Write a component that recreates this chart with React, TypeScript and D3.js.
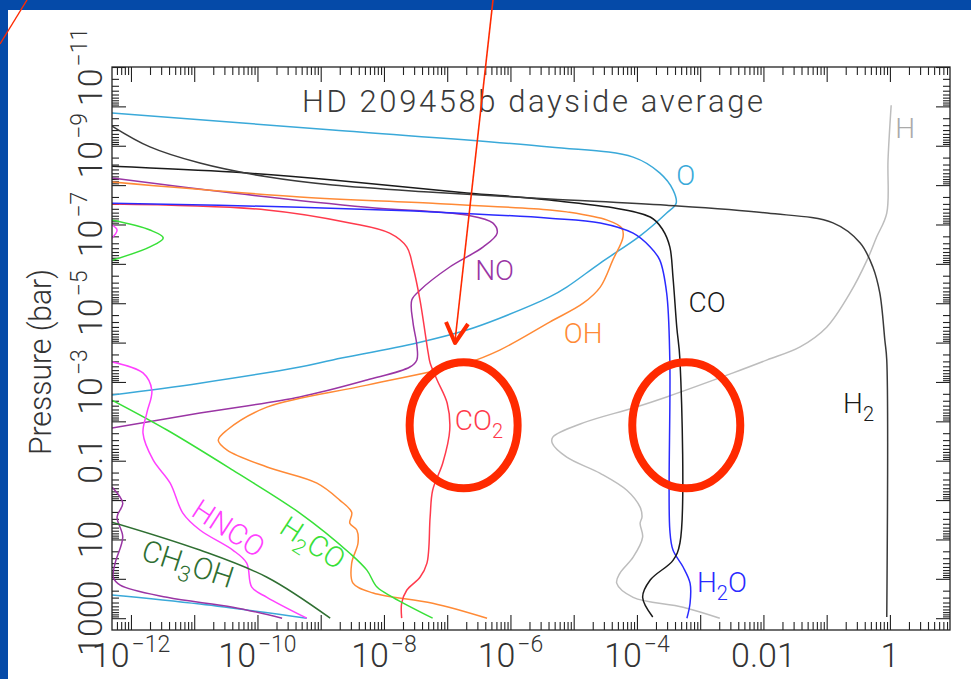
import React, { useEffect, useRef } from 'react';
import * as d3 from 'd3';

// Values: [log10 mixing ratio, log10 pressure (bar)]
const O_top = [[-12.30,-9.83],[-8.81,-9.40],[-5.38,-8.97],[-4.06,-8.71],[-3.64,-8.31],[-3.43,-7.88],[-3.38,-7.54],[-3.53,-7.29],[-3.95,-6.71],[-4.58,-6.02],[-5.11,-5.41],[-5.38,-5.16],[-6.17,-4.62],[-6.69,-4.32],[-7.48,-3.99],[-8.81,-3.56],[-9.33,-3.38],[-10.91,-2.97],[-12.30,-2.67]];
const O_deep = [[-12.30,2.41],[-10.91,2.64],[-9.22,3.00]];
const NO_top = [[-12.30,-8.18],[-10.39,-7.80],[-8.27,-7.44],[-6.69,-7.24],[-6.28,-7.04],[-6.21,-6.78],[-6.43,-6.43],[-6.96,-5.92],[-7.43,-5.33],[-7.56,-5.08],[-7.54,-4.50],[-7.48,-3.94],[-7.48,-3.56],[-7.59,-3.38],[-8.27,-3.05],[-9.33,-2.62],[-10.91,-2.21],[-12.30,-1.83]];
const NO_deep = [[-12.30,-0.33],[-12.13,0.08],[-12.22,0.43],[-12.13,0.94],[-12.25,1.60],[-12.28,1.96],[-12.17,2.16],[-11.43,2.47],[-10.39,2.72],[-9.61,3.00]];
const CO = [[-12.30,-8.48],[-10.39,-8.33],[-8.81,-8.13],[-6.69,-7.80],[-5.38,-7.62],[-3.79,-7.19],[-3.59,-6.86],[-3.48,-6.43],[-3.43,-5.66],[-3.37,-4.39],[-3.32,-3.56],[-3.32,1.09],[-3.43,1.53],[-3.79,2.03],[-3.91,2.47],[-3.75,2.97]];
const H2 = [[-12.30,-9.50],[-11.70,-8.97],[-10.91,-8.56],[-9.85,-8.21],[-8.81,-8.00],[-7.23,-7.82],[-5.38,-7.65],[-3.53,-7.49],[-1.94,-7.29],[-0.90,-7.04],[-0.47,-6.53],[-0.27,-5.92],[-0.16,-5.26],[-0.08,-4.06],[-0.05,-3.56],[-0.05,2.97]];
const H = [[0.02,-10.03],[-0.03,-8.64],[-0.05,-7.29],[-0.21,-6.68],[-0.36,-6.10],[-0.63,-5.26],[-1.00,-4.39],[-1.42,-3.89],[-1.94,-3.56],[-2.48,-3.23],[-3.53,-2.62],[-4.06,-2.34],[-4.85,-1.96],[-5.33,-1.60],[-5.34,-1.45],[-5.11,-1.09],[-4.58,-0.68],[-4.16,-0.25],[-3.95,0.18],[-3.92,0.43],[-3.95,0.59],[-3.91,0.94],[-4.06,1.45],[-4.27,1.86],[-4.32,2.11],[-4.06,2.47],[-3.27,2.72],[-2.69,3.00]];
const H2O = [[-12.30,-7.54],[-9.33,-7.44],[-7.23,-7.32],[-5.38,-7.16],[-4.58,-7.04],[-4.06,-6.78],[-3.79,-6.43],[-3.64,-6.10],[-3.53,-5.26],[-3.48,-3.56],[-3.48,0.76],[-3.43,1.27],[-3.27,1.70],[-3.16,2.11],[-3.16,2.62],[-3.21,3.00]];
const OH = [[-12.30,-8.08],[-9.33,-7.70],[-7.23,-7.54],[-5.38,-7.37],[-5.11,-7.32],[-4.47,-7.11],[-4.24,-6.91],[-4.22,-6.68],[-4.38,-6.10],[-4.58,-5.41],[-4.85,-5.00],[-5.38,-4.52],[-6.17,-3.81],[-6.69,-3.48],[-8.27,-2.92],[-9.85,-2.36],[-10.48,-1.78],[-10.62,-1.52],[-10.48,-1.27],[-9.85,-0.84],[-9.06,-0.43],[-8.70,0.00],[-8.51,0.31],[-8.54,0.59],[-8.43,0.76],[-8.41,1.09],[-8.51,1.60],[-8.49,2.11],[-8.17,2.36],[-7.23,2.62],[-6.37,3.00]];
const CO2 = [[-12.30,-7.52],[-9.85,-7.37],[-8.54,-7.04],[-7.91,-6.78],[-7.64,-6.43],[-7.54,-5.92],[-7.43,-5.08],[-7.30,-3.73],[-7.27,-3.48],[-7.16,-3.05],[-7.00,-2.46],[-6.96,-1.78],[-7.07,-0.94],[-7.23,-0.25],[-7.27,0.43],[-7.32,1.60],[-7.43,1.96],[-7.64,2.29],[-7.72,2.62],[-7.72,3.00]];
const H2CO_top = [[-12.32,-7.12],[-11.70,-6.86],[-11.49,-6.66],[-11.70,-6.43],[-12.32,-6.08]];
const H2CO = [[-12.30,-2.54],[-11.43,-1.78],[-10.39,-0.76],[-9.33,0.33],[-8.54,1.35],[-8.27,1.78],[-8.11,2.21],[-7.86,2.47],[-7.23,3.00]];
const HNCO_top = [[-12.31,-7.00],[-12.22,-6.86],[-12.31,-6.64]];
const HNCO = [[-12.30,-3.51],[-11.81,-3.23],[-11.67,-2.79],[-11.75,-2.21],[-11.81,-1.70],[-11.65,-1.02],[-11.38,-0.43],[-11.18,0.33],[-10.91,0.76],[-10.39,1.27],[-10.17,1.60],[-10.09,2.21],[-9.85,2.47],[-9.22,3.00]];
const CH3OH = [[-12.30,0.56],[-10.91,1.27],[-9.85,1.96],[-8.85,3.00]];

const xTickVals = [1e-12, 1e-10, 1e-8, 1e-6, 1e-4, 0.01, 1];
const xTickText = ['10^12', '10^10', '10^8', '10^6', '10^4', '0.01', '1'];
const yTickVals = [1000, 10, 0.1, 1e-3, 1e-5, 1e-7, 1e-9, 1e-11];
const yTickText = ['1000', '10', '0.1', '10^3', '10^5', '10^7', '10^9', '10^11'];

const FONT = 'Roboto, "Liberation Sans", Arial, sans-serif';

const App = () => {
  const ref = useRef<SVGSVGElement>(null);

  useEffect(() => {
    const svg = d3.select(ref.current);
    svg.selectAll('*').remove();

    const width = 971;
    const height = 679;
    const x0 = 112, x1 = 950, y0 = 67, y1 = 630;

    const x = d3.scaleLog().domain([10 ** -12.3, 10 ** 0.95]).range([x0, x1]);
    const y = d3.scaleLog().domain([1e-11, 10 ** 3.3]).range([y0, y1]);

    // slide background
    svg.append('rect').attr('width', width).attr('height', height).attr('fill', '#054aa8');
    svg.append('rect').attr('x', 8).attr('y', 10).attr('width', width - 8).attr('height', height - 10).attr('fill', '#fff');

    // ticks
    const decades = (lo: number, hi: number) => d3.range(lo, hi + 1).map(e => 10 ** e);
    const minors = (lo: number, hi: number, dom: number[]) => {
      const out: number[] = [];
      for (let e = lo; e <= hi; e++) for (let k = 2; k <= 9; k++) {
        const v = k * 10 ** e;
        if (v > dom[0] && v < dom[1]) out.push(v);
      }
      return out;
    };
    const xMaj = decades(-12, 0);
    const xMin = minors(-13, 0, x.domain());
    const yMaj = decades(-11, 3);
    const yMin = minors(-12, 3, y.domain());

    const drawAxis = (axis: any, tx: number, ty: number) => {
      const g = svg.append('g').attr('transform', `translate(${tx},${ty})`).call(axis);
      g.select('.domain').remove();
      g.selectAll('line').attr('stroke', '#222').attr('stroke-width', 1.1);
      g.selectAll('text').remove();
    };
    const noFmt = () => '';
    drawAxis(d3.axisBottom(x).tickValues(xMaj).tickSize(-15).tickSizeOuter(0).tickFormat(noFmt), 0, y1);
    drawAxis(d3.axisBottom(x).tickValues(xMin).tickSize(-8).tickSizeOuter(0).tickFormat(noFmt), 0, y1);
    drawAxis(d3.axisTop(x).tickValues(xMaj).tickSize(-15).tickSizeOuter(0).tickFormat(noFmt), 0, y0);
    drawAxis(d3.axisTop(x).tickValues(xMin).tickSize(-8).tickSizeOuter(0).tickFormat(noFmt), 0, y0);
    drawAxis(d3.axisLeft(y).tickValues(yMaj).tickSize(-14).tickSizeOuter(0).tickFormat(noFmt), x0, 0);
    drawAxis(d3.axisLeft(y).tickValues(yMin).tickSize(-7).tickSizeOuter(0).tickFormat(noFmt), x0, 0);
    drawAxis(d3.axisRight(y).tickValues(yMaj).tickSize(-14).tickSizeOuter(0).tickFormat(noFmt), x1, 0);
    drawAxis(d3.axisRight(y).tickValues(yMin).tickSize(-7).tickSizeOuter(0).tickFormat(noFmt), x1, 0);

    // curves
    const defs = svg.append('defs');
    defs.append('clipPath').attr('id', 'plot-clip')
      .append('rect').attr('x', x0).attr('y', y0).attr('width', x1 - x0).attr('height', y1 - y0);

    const line = d3.line<number[]>()
      .x(d => x(10 ** d[0]))
      .y(d => y(10 ** d[1]))
      .curve(d3.curveCatmullRom.alpha(0.5));

    const series = [
      { color: '#bdbdbd', data: [H] },
      { color: '#3aa9d9', data: [O_top, O_deep] },
      { color: '#9a35a4', data: [NO_top, NO_deep] },
      { color: '#ff8a36', data: [OH] },
      { color: '#ff3a4c', data: [CO2] },
      { color: '#38e038', data: [H2CO_top, H2CO] },
      { color: '#ff40ff', data: [HNCO_top, HNCO] },
      { color: '#2f6f32', data: [CH3OH] },
      { color: '#2a2aff', data: [H2O] },
      { color: '#1a1a1a', data: [CO] },
      { color: '#3a3a3a', data: [H2] },
    ];

    const curves = svg.append('g').attr('clip-path', 'url(#plot-clip)');
    series.forEach(s => s.data.forEach(seg => {
      curves.append('path')
        .attr('d', line(seg))
        .attr('fill', 'none')
        .attr('stroke', s.color)
        .attr('stroke-width', 1.5);
    }));

    // frame
    svg.append('rect').attr('x', x0).attr('y', y0).attr('width', x1 - x0).attr('height', y1 - y0)
      .attr('fill', 'none').attr('stroke', '#222').attr('stroke-width', 1.3);

    // tick labels
    const powText = (t: any, label: string, base: number, sup: number, rise: number) => {
      const [b, e] = label.split('^');
      t.append('tspan').attr('font-size', base).text(b);
      if (e) t.append('tspan').attr('font-size', sup).attr('dy', -rise).attr('dx', 2).text('\u2212' + e);
    };

    xTickVals.forEach((v, i) => {
      const t = svg.append('text')
        .attr('x', x(v)).attr('y', 667)
        .attr('text-anchor', 'middle')
        .attr('font-family', FONT).attr('font-weight', 300).attr('fill', '#333');
      powText(t, xTickText[i], 34, 23, 15);
    });

    yTickVals.forEach((v, i) => {
      const t = svg.append('text')
        .attr('transform', `translate(102,${y(v)}) rotate(-90)`)
        .attr('text-anchor', 'middle')
        .attr('font-family', FONT).attr('font-weight', 300).attr('fill', '#333');
      powText(t, yTickText[i], 34, 23, 15);
    });

    svg.append('text')
      .attr('transform', `translate(51,${362}) rotate(-90)`)
      .attr('text-anchor', 'middle')
      .attr('font-family', FONT).attr('font-weight', 300).attr('font-size', 31).attr('fill', '#333')
      .attr('textLength', 186).attr('lengthAdjust', 'spacingAndGlyphs')
      .text('Pressure (bar)');

    svg.append('text')
      .attr('x', 302).attr('y', 112)
      .attr('font-family', FONT).attr('font-weight', 300).attr('font-size', 31).attr('fill', '#3a3a3a')
      .attr('textLength', 461).attr('lengthAdjust', 'spacing')
      .text('HD 209458b dayside average');

    // species labels: [log10 x, log10 p]
    const labels = [
      { t: 'O', at: [-3.23, -8.00], c: '#3aa9d9', a: 'middle', r: 0, s: 28 },
      { t: 'NO', at: [-6.25, -5.59], c: '#9a35a4', a: 'middle', r: 0, s: 28 },
      { t: 'CO', at: [-2.89, -4.78], c: '#1a1a1a', a: 'middle', r: 0, s: 28 },
      { t: 'OH', at: [-4.85, -3.99], c: '#ff8a36', a: 'middle', r: 0, s: 28 },
      { t: 'H', at: [0.24, -9.20], c: '#aaaaaa', a: 'middle', r: 0, s: 28 },
      { t: 'H_2', at: [-0.74, -2.21], c: '#1a1a1a', a: 'start', r: 0, s: 28 },
      { t: 'CO_2', at: [-6.88, -1.78], c: '#ff3a4c', a: 'start', r: 0, s: 28 },
      { t: 'H_2O', at: [-3.05, 2.34], c: '#2a2aff', a: 'start', r: 0, s: 28 },
      { t: 'HNCO', at: [-11.07, 0.38], c: '#ff40ff', a: 'start', r: 33, s: 29 },
      { t: 'H_2CO', at: [-9.68, 0.81], c: '#38e038', a: 'start', r: 33, s: 29 },
      { t: 'CH_3OH', at: [-11.86, 1.50], c: '#2f6f32', a: 'start', r: 18, s: 30 },
    ];
    labels.forEach(l => {
      const t = svg.append('text')
        .attr('transform', `translate(${x(10 ** l.at[0])},${y(10 ** l.at[1])}) rotate(${l.r})`)
        .attr('text-anchor', l.a)
        .attr('font-family', FONT).attr('font-weight', 300).attr('font-size', l.s).attr('fill', l.c);
      const parts = l.t.split(/(_\d)/).filter(p => p);
      let sub = false;
      parts.forEach(p => {
        if (p.startsWith('_')) {
          t.append('tspan').attr('font-size', Math.round(l.s * 0.72)).attr('dy', 8).text(p.slice(1));
          sub = true;
        } else {
          t.append('tspan').attr('dy', sub ? -8 : 0).text(p);
          sub = false;
        }
      });
    });

    // red annotations
    const red = '#ff2a00';
    [[-6.74, -1.90], [-3.22, -1.90]].forEach(c => {
      svg.append('ellipse')
        .attr('cx', x(10 ** c[0])).attr('cy', y(10 ** c[1]))
        .attr('rx', 54).attr('ry', 63)
        .attr('fill', 'none').attr('stroke', red).attr('stroke-width', 8);
    });
    svg.append('line').attr('x1', 493).attr('y1', 0).attr('x2', 455).attr('y2', 341)
      .attr('stroke', red).attr('stroke-width', 1.6);
    svg.append('path').attr('d', 'M446,322 L455,343 L468,324')
      .attr('fill', 'none').attr('stroke', red).attr('stroke-width', 4).attr('stroke-linejoin', 'round');
    svg.append('line').attr('x1', 0).attr('y1', 44).attr('x2', 27).attr('y2', 0)
      .attr('stroke', red).attr('stroke-width', 1.4);
  }, []);

  return <svg ref={ref} width={971} height={679} style={{ position: 'absolute', left: 0, top: 0 }} />;
};

export default App;
